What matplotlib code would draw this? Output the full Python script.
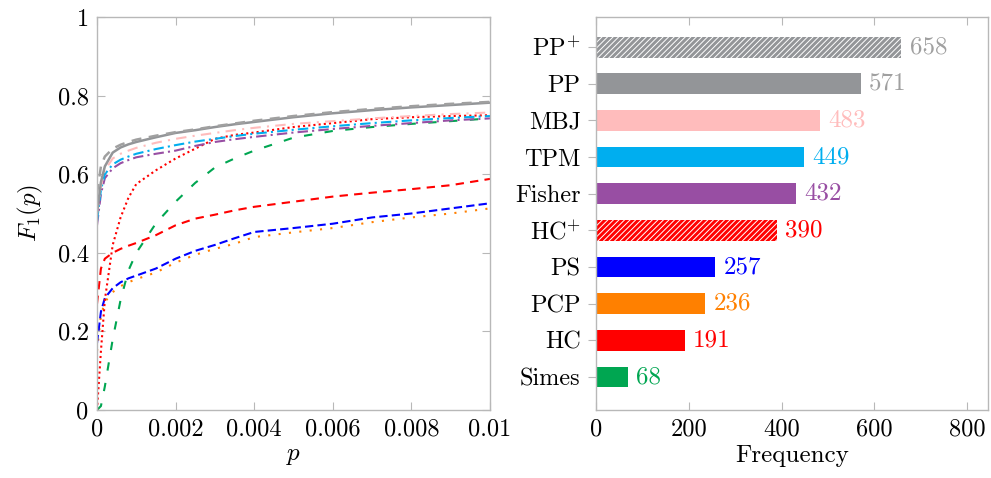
import matplotlib
matplotlib.use("Agg")
import matplotlib.pyplot as plt
from matplotlib.ticker import FixedLocator, FixedFormatter

plt.rcParams['font.family'] = 'serif'
plt.rcParams['font.serif'] = ['cmr10', 'DejaVu Serif']
plt.rcParams['mathtext.fontset'] = 'cm'
plt.rcParams['axes.unicode_minus'] = False
plt.rcParams['hatch.linewidth'] = 0.7

# ---------------- data ----------------
p_vals = [0, 0.0001, 0.0002, 0.0004, 0.0006, 0.0008, 0.001, 0.0015, 0.002, 0.0025,
          0.003, 0.0035, 0.004, 0.005, 0.006, 0.007, 0.008, 0.009, 0.01]

f1_pp_plus = [0.55, 0.62, 0.645, 0.665, 0.675, 0.682, 0.688, 0.698, 0.707, 0.714,
              0.722, 0.729, 0.736, 0.748, 0.758, 0.766, 0.773, 0.779, 0.784]
f1_pp = [0.50, 0.58, 0.62, 0.655, 0.668, 0.676, 0.682, 0.694, 0.705, 0.712,
         0.720, 0.727, 0.733, 0.745, 0.755, 0.763, 0.770, 0.776, 0.782]
f1_mbj = [0.50, 0.57, 0.61, 0.64, 0.652, 0.66, 0.667, 0.68, 0.69, 0.698,
          0.705, 0.712, 0.718, 0.728, 0.735, 0.742, 0.748, 0.753, 0.757]
f1_tpm = [0.48, 0.56, 0.60, 0.625, 0.637, 0.645, 0.652, 0.664, 0.674, 0.683,
          0.69, 0.697, 0.703, 0.713, 0.722, 0.73, 0.737, 0.743, 0.748]
f1_fisher = [0.47, 0.55, 0.59, 0.615, 0.628, 0.636, 0.643, 0.652, 0.66, 0.672,
             0.682, 0.689, 0.695, 0.706, 0.715, 0.723, 0.73, 0.737, 0.742]
f1_hc_plus = [0.0, 0.15, 0.28, 0.42, 0.49, 0.54, 0.575, 0.61, 0.64, 0.665,
              0.69, 0.70, 0.706, 0.72, 0.73, 0.74, 0.745, 0.748, 0.75]
f1_ps = [0.17, 0.25, 0.285, 0.31, 0.325, 0.335, 0.342, 0.36, 0.385, 0.405,
         0.42, 0.437, 0.453, 0.463, 0.474, 0.49, 0.50, 0.513, 0.526]
f1_pcp = [0.15, 0.24, 0.275, 0.30, 0.315, 0.325, 0.333, 0.35, 0.375, 0.395,
          0.41, 0.423, 0.44, 0.452, 0.463, 0.478, 0.49, 0.50, 0.513]
f1_hc = [0.27, 0.36, 0.385, 0.40, 0.41, 0.418, 0.425, 0.445, 0.47, 0.487,
         0.497, 0.508, 0.517, 0.53, 0.543, 0.553, 0.562, 0.572, 0.588]
f1_simes = [0.0, 0.01, 0.06, 0.18, 0.28, 0.355, 0.40, 0.475, 0.53, 0.578,
            0.617, 0.64, 0.66, 0.693, 0.71, 0.72, 0.728, 0.735, 0.742]

methods = ['Simes', 'HC', 'PCP', 'PS', 'HC$^{+}$', 'Fisher', 'TPM', 'MBJ', 'PP', 'PP$^{+}$']
frequency = [68, 191, 236, 257, 390, 432, 449, 483, 571, 658]

x_ticks = [0, 0.002, 0.004, 0.006, 0.008, 0.01]
x_tick_labels = ['0', '0.002', '0.004', '0.006', '0.008', '0.01']
y_ticks = [0, 0.2, 0.4, 0.6, 0.8, 1.0]
y_tick_labels = ['0', '0.2', '0.4', '0.6', '0.8', '1']
freq_ticks = [0, 200, 400, 600, 800]
freq_tick_labels = ['0', '200', '400', '600', '800']

# ---------------- styles ----------------
C_GRAY = '#939598'
C_GRAY2 = '#a0a0a0'
C_PINK = '#ffbcbc'
C_CYAN = '#00aeef'
C_PURPLE = '#984ea3'
C_RED = '#ff0000'
C_BLUE = '#0000ff'
C_ORANGE = '#ff8000'
C_GREEN = '#00a651'
SPINE = '#b8b8b8'
FS = 17.5

bar_colors = [C_GREEN, C_RED, C_ORANGE, C_BLUE, C_RED, C_PURPLE, C_CYAN, C_PINK, C_GRAY, C_GRAY]
bar_hatch = [None, None, None, None, '//////', None, None, None, None, '//////']
label_colors = [C_GREEN, C_RED, C_ORANGE, C_BLUE, C_RED, C_PURPLE, C_CYAN, C_PINK, C_GRAY2, C_GRAY2]

fig = plt.figure(figsize=(9.91, 4.78), dpi=100)
ax1 = fig.add_axes([97 / 991, (478 - 410) / 478, 393 / 991, 393 / 478])
ax2 = fig.add_axes([596 / 991, (478 - 410) / 478, 392 / 991, 393 / 478])

# ---------------- left: F1 curves ----------------
lw = 1.5
ax1.plot(p_vals, f1_simes, color=C_GREEN, lw=lw, ls=(0, (4, 6)))
ax1.plot(p_vals, f1_pcp, color=C_ORANGE, lw=lw, ls=(0, (1, 4)))
ax1.plot(p_vals, f1_ps, color=C_BLUE, lw=lw, ls=(0, (4, 2)))
ax1.plot(p_vals, f1_hc, color=C_RED, lw=lw, ls=(0, (4, 3)))
ax1.plot(p_vals, f1_hc_plus, color=C_RED, lw=lw, ls=(0, (1, 1.5)))
ax1.plot(p_vals, f1_fisher, color=C_PURPLE, lw=lw, ls=(0, (5, 2, 1, 2)))
ax1.plot(p_vals, f1_tpm, color=C_CYAN, lw=lw, ls=(0, (5, 2, 1, 2)))
ax1.plot(p_vals, f1_mbj, color=C_PINK, lw=lw, ls=(0, (5, 3, 1, 3)))
ax1.plot(p_vals, f1_pp, color=C_GRAY, lw=1.8, ls='-')
ax1.plot(p_vals, f1_pp_plus, color=C_GRAY2, lw=1.8, ls=(0, (4, 3)))

ax1.set_xlim(0, 0.01)
ax1.set_ylim(0, 1)
ax1.xaxis.set_major_locator(FixedLocator(x_ticks))
ax1.xaxis.set_major_formatter(FixedFormatter(x_tick_labels))
ax1.yaxis.set_major_locator(FixedLocator(y_ticks))
ax1.yaxis.set_major_formatter(FixedFormatter(y_tick_labels))
ax1.tick_params(direction='in', length=6, width=0.8, color=SPINE, labelsize=FS,
                top=True, right=True, pad=6)
ax1.set_xlabel('$p$', fontsize=FS + 0.5, labelpad=3)
ax1.set_ylabel('$F_1(p)$', fontsize=FS + 0.5, labelpad=9)
for s in ax1.spines.values():
    s.set_color(SPINE)
    s.set_linewidth(1.0)

# ---------------- right: frequency bars ----------------
pos = list(range(len(methods)))
for i in pos:
    if bar_hatch[i]:
        ax2.barh(i, frequency[i], height=0.57, color=bar_colors[i], edgecolor='white',
                 hatch=bar_hatch[i], linewidth=0)
    else:
        ax2.barh(i, frequency[i], height=0.57, color=bar_colors[i], linewidth=0)
    ax2.annotate(str(frequency[i]), xy=(frequency[i], i), xytext=(6, 0),
                 textcoords='offset points', va='center', ha='left',
                 fontsize=FS + 0.5, color=label_colors[i])

ax2.set_xlim(0, 845)
ax2.set_ylim(-0.9, 9.82)
ax2.set_yticks(pos)
ax2.set_yticklabels(methods)
ax2.xaxis.set_major_locator(FixedLocator(freq_ticks))
ax2.xaxis.set_major_formatter(FixedFormatter(freq_tick_labels))
ax2.tick_params(axis='x', direction='in', length=6, width=0.8, color=SPINE,
                labelsize=FS, top=True, pad=6)
ax2.tick_params(axis='y', direction='out', length=6, width=0.8, color=SPINE,
                labelsize=FS, pad=5)
ax2.set_xlabel('Frequency', fontsize=FS + 0.5, labelpad=3)
for s in ax2.spines.values():
    s.set_color(SPINE)
    s.set_linewidth(1.0)

fig.savefig('out.png', dpi=100)
